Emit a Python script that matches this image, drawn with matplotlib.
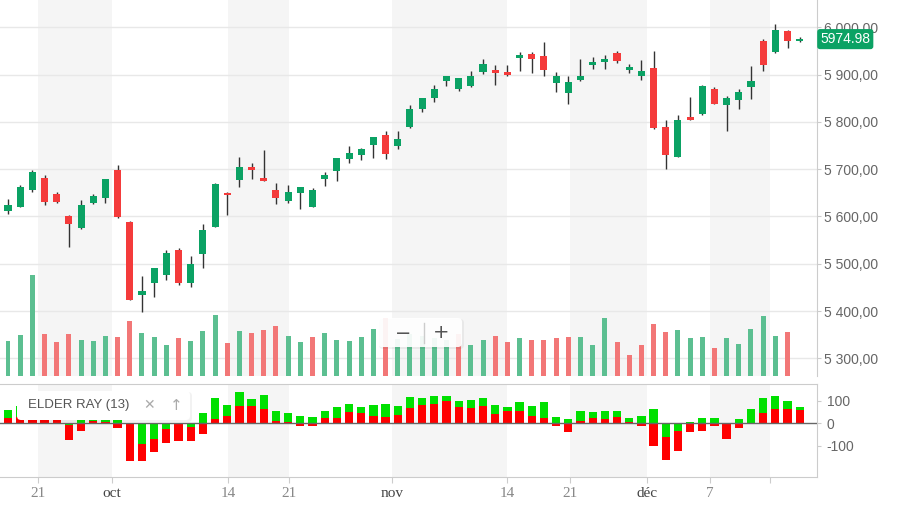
import numpy as np
import matplotlib
matplotlib.use("Agg")
import matplotlib.pyplot as plt
from matplotlib.patches import FancyBboxPatch
from matplotlib.lines import Line2D

# daily candles
opens = [5612, 5621, 5656, 5681, 5647, 5601, 5576, 5628, 5638, 5698,
         5588, 5433, 5460, 5476, 5529, 5460, 5521, 5578, 5650, 5677,
         5704, 5681, 5655, 5633, 5649, 5620, 5679, 5697, 5722, 5729,
         5751, 5772, 5750, 5790, 5827, 5851, 5887, 5870, 5876, 5906,
         5910, 5906, 5934, 5944, 5939, 5883, 5862, 5888, 5921, 5926,
         5946, 5909, 5898, 5914, 5789, 5726, 5810, 5817, 5870, 5836,
         5847, 5874, 5972, 5948, 5993, 5972]
highs = [5636, 5666, 5698, 5687, 5651, 5602, 5634, 5647, 5679, 5709,
         5590, 5474, 5492, 5528, 5533, 5517, 5583, 5671, 5651, 5725,
         5712, 5741, 5670, 5666, 5663, 5661, 5693, 5724, 5749, 5745,
         5769, 5781, 5780, 5835, 5851, 5877, 5896, 5893, 5908, 5932,
         5920, 5920, 5948, 5947, 5968, 5905, 5898, 5932, 5937, 5941,
         5950, 5922, 5931, 5950, 5804, 5815, 5853, 5877, 5873, 5854,
         5869, 5918, 5975, 6007, 5994, 5979]
lows = [5605, 5619, 5651, 5624, 5628, 5535, 5574, 5626, 5628, 5597,
        5423, 5397, 5429, 5465, 5454, 5450, 5490, 5577, 5602, 5663,
        5680, 5675, 5626, 5628, 5615, 5619, 5664, 5674, 5714, 5719,
        5723, 5721, 5743, 5788, 5820, 5842, 5875, 5865, 5874, 5901,
        5877, 5898, 5908, 5903, 5898, 5863, 5838, 5887, 5911, 5912,
        5925, 5903, 5889, 5785, 5700, 5725, 5804, 5815, 5837, 5780,
        5828, 5848, 5908, 5945, 5957, 5968]
closes = [5624, 5662, 5694, 5631, 5630, 5585, 5624, 5643, 5679, 5599,
          5424, 5442, 5491, 5522, 5459, 5500, 5571, 5669, 5645, 5705,
          5699, 5676, 5638, 5652, 5662, 5656, 5688, 5724, 5734, 5743,
          5768, 5733, 5764, 5827, 5851, 5869, 5896, 5892, 5897, 5922,
          5904, 5900, 5941, 5932, 5910, 5897, 5884, 5897, 5927, 5932,
          5929, 5916, 5908, 5788, 5729, 5804, 5805, 5876, 5838, 5851,
          5864, 5887, 5921, 5995, 5970, 5974.98]

# volume (no bar yet for the last session); 1 = up day, 0 = down day
volume = [35, 41, 101, 42, 34, 42, 36, 35, 40, 39,
          55, 43, 39, 31, 38, 35, 45, 61, 33, 45,
          43, 46, 50, 40, 34, 39, 43, 36, 35, 39,
          47, 58, 37, 42, 40, 38, 36, 42, 31, 36,
          40, 34, 38, 36, 36, 38, 39, 39, 31, 58,
          34, 21, 31, 52, 44, 46, 38, 39, 28, 38,
          32, 47, 60, 40, 44]
volume_up = [1, 1, 1, 0, 0, 0, 1, 1, 1, 0,
             0, 1, 1, 1, 0, 1, 1, 1, 0, 1,
             0, 0, 0, 1, 1, 0, 1, 1, 1, 1,
             1, 0, 1, 1, 1, 1, 1, 0, 1, 1,
             0, 0, 1, 0, 0, 0, 0, 1, 1, 1,
             0, 0, 0, 0, 0, 1, 1, 1, 0, 1,
             1, 1, 1, 1, 0]

# Elder Ray (13): bull power / bear power
bull_power = [59, 76, 90, 77, 39, -6, 26, 29, 57, 90,
              3, -91, -69, -25, -1, -15, 44, 112, 81, 138,
              107, 126, 53, 46, 31, 28, 53, 72, 85, 72,
              81, 85, 76, 114, 112, 120, 120, 98, 103, 112,
              81, 72, 94, 76, 94, 28, 19, 54, 50, 54,
              54, 23, 32, 65, -59, -35, 4, 24, 23, 3,
              19, 64, 112, 120, 98, 72]
bear_power = [23, 27, 44, 15, 16, -72, -34, 8, 6, -21,
              -164, -168, -128, -87, -80, -80, -47, 19, 33, 75,
              76, 63, 12, 7, -14, -13, 23, 22, 51, 45,
              33, 26, 38, 68, 81, 83, 100, 71, 68, 78,
              41, 52, 54, 32, 24, -14, -39, 10, 24, 21,
              28, 6, -10, -98, -161, -122, -37, -35, -11, -69,
              -20, 2, 46, 61, 63, 59]

tick_pos = [2.46, 8.54, 18.06, 23.07, 31.5, 41.0, 46.1, 52.5, 57.6, 62.6]
tick_labels = ['21', 'oct', '14', '21', 'nov', '14', '21', 'déc', '7', '']
month_labels = ['oct', 'nov', 'déc']

GREEN = '#0ba264'
RED = '#f43b3b'
VOL_GREEN = '#5cbf91'
VOL_RED = '#f27777'
BAND = '#f5f5f5'

W, H = 913, 505


def fx(x):
    return x / W


def fy(y):
    return 1 - y / H


fig = plt.figure(figsize=(W / 100, H / 100), dpi=100)

# price panel
ax = fig.add_axes([0, fy(376), fx(817), fy(0) - fy(376)])
x = np.arange(len(closes))
o, h, l, c = (np.array(a, dtype=float) for a in (opens, highs, lows, closes))
up = c >= o
col = np.where(up, GREEN, RED)

bands = list(zip(tick_pos[0::2], tick_pos[1::2]))
for a, b in bands:
    ax.axvspan(a, b, color=BAND, lw=0, zorder=0)

for yv in range(5300, 6001, 100):
    ax.axhline(yv, color='#e8e8e8', lw=1, zorder=1)

ax.vlines(x, l, h, color='#333333', lw=1, zorder=2)
body_lo = np.minimum(o, c)
body_h = np.maximum(np.abs(c - o), 1.5)
ax.bar(x, body_h, bottom=body_lo, width=0.58, color=col, lw=0, zorder=3)

ax.set_xlim(-0.657, 66.42)
ax.set_ylim(5262.6, 6057.7)
ax.yaxis.tick_right()
ax.set_yticks(range(5300, 6001, 100))
ax.set_yticklabels([f"{v:,.2f}".replace(',', ' ').replace('.', ',')
                    for v in range(5300, 6001, 100)])
ax.tick_params(axis='y', length=3, color='#cccccc', pad=2,
               labelsize=10, labelcolor='#666666')
ax.tick_params(axis='x', bottom=False, labelbottom=False)
for lab in ax.get_yticklabels():
    lab.set_fontfamily('Liberation Sans')
for s in ['left', 'top', 'bottom']:
    ax.spines[s].set_visible(False)
ax.spines['right'].set_color('#cccccc')

# last price marker
ax.text(1.004, closes[-1], f"{closes[-1]:.2f}", transform=ax.get_yaxis_transform(),
        ha='left', va='center', color='white', fontsize=10,
        fontfamily='Liberation Sans', clip_on=False, zorder=10,
        bbox=dict(boxstyle='round,pad=0.22,rounding_size=0.2', fc=GREEN, ec='none'))

# volume overlay
axv = fig.add_axes([0, fy(376), fx(817), fy(0) - fy(376)], sharex=ax)
axv.patch.set_visible(False)
vcol = [VOL_GREEN if u else VOL_RED for u in volume_up]
axv.bar(x[:len(volume)], volume, width=0.41, color=vcol, lw=0)
axv.set_ylim(0, 376)
axv.axis('off')

# Elder Ray panel
ax2 = fig.add_axes([0, fy(477), fx(817), fy(384) - fy(477)], sharex=ax)
for a, b in bands:
    ax2.axvspan(a, b, color=BAND, lw=0, zorder=0)
bull = np.array(bull_power, dtype=float)
bear = np.array(bear_power, dtype=float)
pos = bull >= 0
ax2.bar(x[pos], bull[pos], width=0.68, color='#00e000', lw=0, zorder=2)
ax2.bar(x, bear, width=0.68, color='#ff0000', lw=0, zorder=3)
ax2.bar(x[~pos], bull[~pos], width=0.68, color='#00e000', lw=0, zorder=4)
ax2.axhline(0, color='#666666', lw=1, zorder=5)
ax2.set_ylim(-236.6, 173.1)
ax2.yaxis.tick_right()
ax2.set_yticks([-100, 0, 100])
ax2.set_yticklabels(['-100', '0', '100'])
ax2.tick_params(axis='y', length=3, color='#cccccc', pad=4,
                labelsize=10, labelcolor='#666666')
for lab in ax2.get_yticklabels():
    lab.set_fontfamily('Liberation Sans')
ax2.set_xticks(tick_pos)
ax2.set_xticklabels(tick_labels)
ax2.tick_params(axis='x', length=4, color='#cccccc', pad=3, labelsize=11)
for lab in ax2.get_xticklabels():
    lab.set_fontfamily('Liberation Serif')
    lab.set_color('#444444' if lab.get_text() in month_labels else '#888888')
ax2.spines['left'].set_visible(False)
for s in ['right', 'top', 'bottom']:
    ax2.spines[s].set_color('#cccccc')
ax2.set_xlim(-0.657, 66.42)


def px_box(x0, y0, x1, y1, **kw):
    # rectangle given in pixel coords from the top-left corner
    return FancyBboxPatch((x0 / 100, (H - y1) / 100), (x1 - x0) / 100, (y1 - y0) / 100,
                          transform=fig.dpi_scale_trans, **kw)


# indicator legend
fig.patches.append(px_box(18, 392, 192, 422, boxstyle='round,pad=0,rounding_size=0.04',
                          fc='black', ec='none', alpha=0.05, zorder=20))
fig.patches.append(px_box(17, 391, 190, 420, boxstyle='round,pad=0,rounding_size=0.04',
                          fc='white', ec='none', zorder=21))
fig.text(fx(28), fy(405), 'ELDER RAY (13)', fontsize=9.5, color='#555555',
         fontfamily='Liberation Sans', va='center', ha='left', zorder=22)
fig.text(fx(149), fy(405), '✕', fontsize=10, color='#aaaaaa', va='center',
         ha='center', zorder=22)
fig.text(fx(176), fy(405), '↑', fontsize=11, color='#aaaaaa', va='center',
         ha='center', zorder=22)

# zoom buttons
fig.patches.append(px_box(379, 319, 464, 349, boxstyle='round,pad=0,rounding_size=0.04',
                          fc='black', ec='none', alpha=0.05, zorder=20))
fig.patches.append(px_box(378, 318, 462, 347, boxstyle='round,pad=0,rounding_size=0.04',
                          fc='white', ec='none', alpha=0.92, zorder=21))
fig.text(fx(403), fy(333), '−', fontsize=14, color='#555555', va='center',
         ha='center', zorder=22)
fig.text(fx(441), fy(333), '+', fontsize=14, color='#555555', va='center',
         ha='center', zorder=22)
fig.lines.append(Line2D([fx(424), fx(424)], [fy(323), fy(343)], color='#cccccc',
                        lw=1, transform=fig.transFigure, zorder=22))

fig.savefig('out.png', dpi=100)
